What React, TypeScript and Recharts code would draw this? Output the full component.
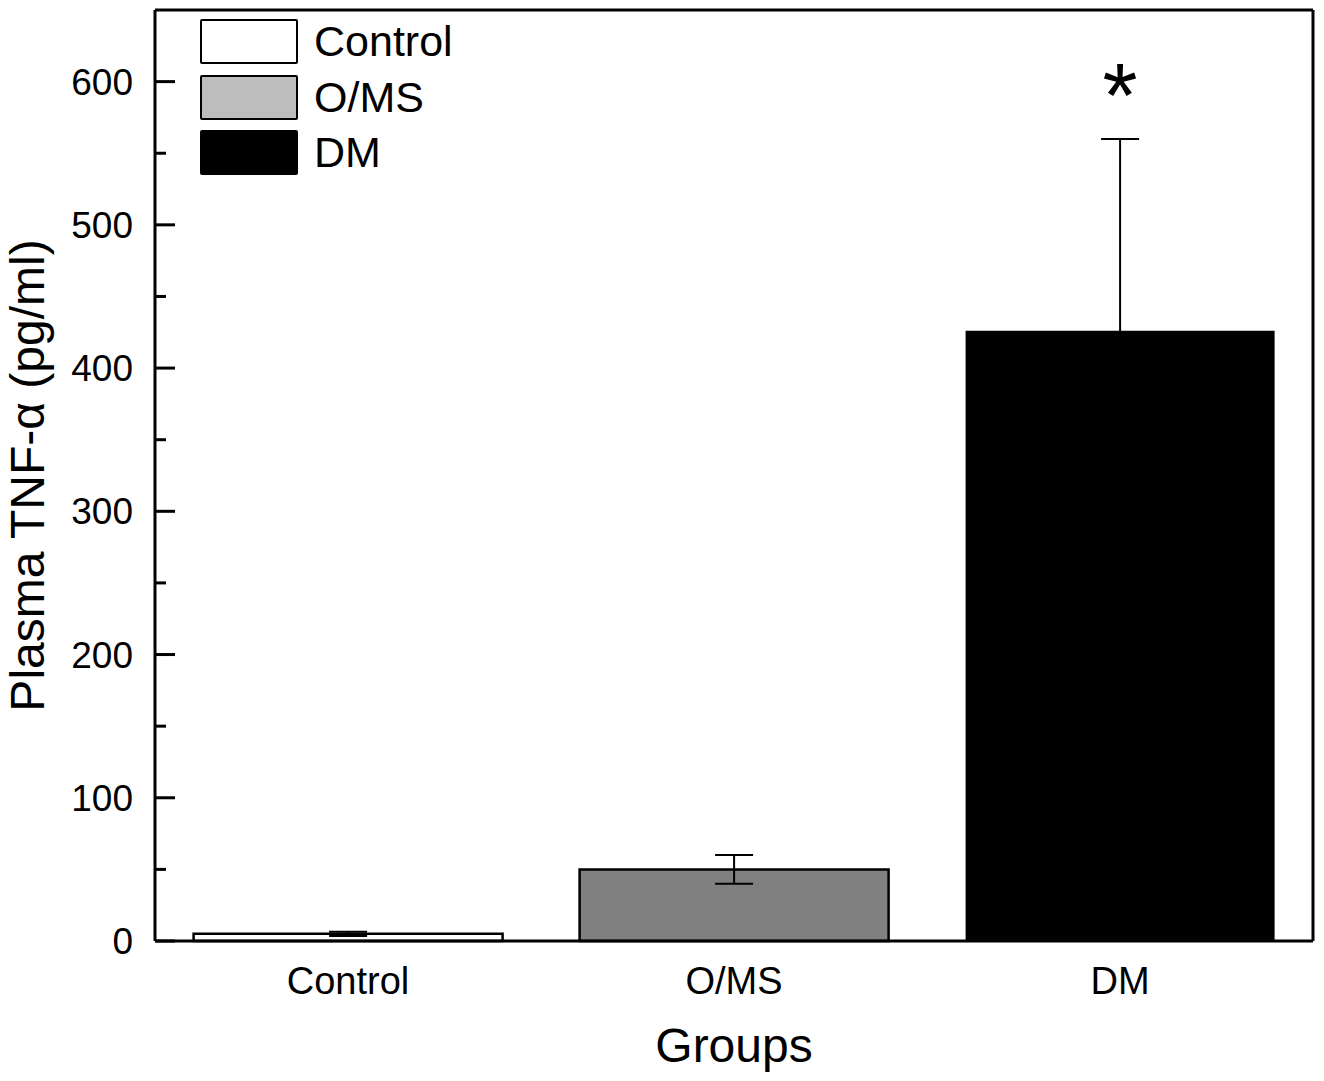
import React from 'react';
import { BarChart, Bar, XAxis, YAxis, Cell, ErrorBar, Legend, ReferenceDot, Label } from 'recharts';

const categories = ['Control', 'O/MS', 'DM'];
const means = [5, 50, 426];
const errors = [1.5, 10, 134];
const barFills = ['#ffffff', '#808080', '#000000'];
const legendFills = ['#ffffff', '#bdbdbd', '#000000'];
const yMajorTicks = [0, 100, 200, 300, 400, 500, 600];
const yMinorTicks = [50, 150, 250, 350, 450, 550];
const yDomain = [0, 650];
const sigCategory = 'DM';
const sigValue = 598;
const sigMark = '*';
const yLabelText = 'Plasma TNF-\u03b1 (pg/ml)';
const xLabelText = 'Groups';

const FONT = '"Liberation Sans", Arial, Helvetica, sans-serif';

const data = categories.map((c, i) => ({ name: c, value: means[i], err: errors[i] }));
const yTicks = [...yMajorTicks, ...yMinorTicks].sort((a, b) => a - b);

const YTick = (props: any) => {
  const { x, y, payload } = props;
  const major = payload.value % 100 === 0;
  return (
    <g>
      <line x1={x} x2={x + (major ? 20 : 11)} y1={y} y2={y} stroke="#000" strokeWidth={3} />
      {major && (
        <text x={x - 22} y={y} dy={13} textAnchor="end" fontSize={37} fontFamily={FONT} fill="#000">
          {payload.value}
        </text>
      )}
    </g>
  );
};

const XTick = (props: any) => {
  const { x, y, payload } = props;
  return (
    <text x={x} y={y + 53} textAnchor="middle" fontSize={38} fontFamily={FONT} fill="#000">
      {payload.value}
    </text>
  );
};

const LegendContent = () => (
  <div style={{ fontFamily: FONT }}>
    {categories.map((c, i) => (
      <div key={c} style={{ display: 'flex', alignItems: 'center', height: 45, marginBottom: 10.5 }}>
        <div
          style={{
            width: 98,
            height: 45,
            boxSizing: 'border-box',
            border: '2.5px solid #000',
            borderRadius: 2,
            background: legendFills[i],
          }}
        />
        <span style={{ marginLeft: 16, fontSize: 43, lineHeight: '45px', color: '#000' }}>{c}</span>
      </div>
    ))}
  </div>
);

export default function App() {
  return (
    <div style={{ position: 'absolute', left: 0, top: 0, width: 1324, height: 1081, background: '#fff' }}>
      <BarChart
        width={1324}
        height={1081}
        data={data}
        margin={{ top: 9, right: 10, bottom: 0, left: 0 }}
        barCategoryGap="10%"
      >
        <XAxis
          xAxisId="bottom"
          dataKey="name"
          height={140}
          tickSize={0}
          tickMargin={0}
          tickLine={false}
          axisLine={{ stroke: '#000', strokeWidth: 3 }}
          tick={<XTick />}
        >
          <Label
            content={(p: any) => {
              const vb = p.viewBox;
              return (
                <text x={vb.x + vb.width / 2} y={vb.y + 121} textAnchor="middle" fontSize={48} fontFamily={FONT} fill="#000">
                  {xLabelText}
                </text>
              );
            }}
          />
        </XAxis>
        <XAxis
          xAxisId="top"
          orientation="top"
          dataKey="name"
          height={1}
          tick={false}
          tickLine={false}
          axisLine={{ stroke: '#000', strokeWidth: 3 }}
        />
        <YAxis
          yAxisId="left"
          width={155}
          domain={yDomain}
          ticks={yTicks}
          interval={0}
          tickSize={0}
          tickMargin={0}
          tickLine={false}
          axisLine={{ stroke: '#000', strokeWidth: 3 }}
          tick={<YTick />}
        >
          <Label
            content={(p: any) => {
              const vb = p.viewBox;
              const cx = vb.x + 44;
              const cy = vb.y + vb.height / 2;
              return (
                <text
                  transform={`translate(${cx},${cy}) rotate(-90)`}
                  textAnchor="middle"
                  fontSize={48}
                  fontFamily={FONT}
                  fill="#000"
                >
                  {yLabelText}
                </text>
              );
            }}
          />
        </YAxis>
        <YAxis
          yAxisId="right"
          orientation="right"
          width={1}
          domain={yDomain}
          tick={false}
          tickLine={false}
          axisLine={{ stroke: '#000', strokeWidth: 3 }}
        />
        <Legend
          content={<LegendContent />}
          wrapperStyle={{ position: 'absolute', left: 200, top: 19, width: 'auto', height: 0, overflow: 'visible' }}
        />
        <Bar dataKey="value" xAxisId="bottom" yAxisId="left" isAnimationActive={false}>
          {data.map((d, i) => (
            <Cell
              key={d.name}
              fill={barFills[i]}
              stroke={i === 2 ? 'none' : '#000'}
              strokeWidth={2.5}
            />
          ))}
          <ErrorBar dataKey="err" width={19} stroke="#000" strokeWidth={2} isAnimationActive={false} />
        </Bar>
        <ReferenceDot
          xAxisId="bottom"
          yAxisId="left"
          x={sigCategory}
          y={sigValue}
          r={0}
          fill="none"
          stroke="none"
          label={(p: any) => {
            const vb = p.viewBox;
            return (
              <text x={vb.x} y={vb.y + 43} textAnchor="middle" fontSize={90} fontFamily={FONT} fill="#000">
                {sigMark}
              </text>
            );
          }}
        />
      </BarChart>
    </div>
  );
}
